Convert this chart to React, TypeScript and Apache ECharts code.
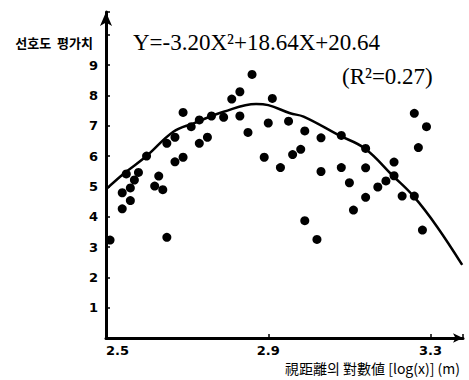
import React, { useEffect, useRef } from "react";
import * as echarts from "echarts";

const xTicks = [2.5, 2.9, 3.3];
const yTickLabels = [1, 2, 3, 4, 5, 6, 7, 8, 9];

const obsX = [
  2.51, 2.69, 2.54, 2.54, 2.55, 2.56, 2.56, 2.57, 2.58, 2.6, 2.62, 2.63, 2.64, 2.65, 2.65,
  2.67, 2.67, 2.69, 2.71, 2.73, 2.73, 2.75, 2.76, 2.79, 2.83, 2.85, 2.89, 2.9, 2.93,
  2.86, 2.83, 2.81, 2.91, 3.26,
  2.95, 2.99, 3.03, 3.08, 3.14, 2.98, 2.96, 3.03, 3.08, 3.14, 3.1, 3.17, 3.19, 3.21, 3.21,
  3.14, 3.11, 3.23, 3.26, 2.99, 3.02, 3.29, 3.27, 3.28,
];
const obsY = [
  3.23, 7.44, 4.79, 4.26, 5.41, 4.53, 4.95, 5.21, 5.46, 6.0, 5.01, 5.34, 4.89, 3.32, 6.42,
  6.62, 5.81, 5.96, 6.97, 7.19, 6.42, 6.62, 7.32, 7.28, 7.32, 6.78, 5.96, 7.09, 5.62,
  8.69, 8.12, 7.88, 7.9, 7.41,
  7.15, 6.83, 6.6, 6.68, 6.25, 6.22, 6.05, 5.49, 5.62, 5.61, 5.12, 4.98, 5.18, 5.35, 5.8,
  4.64, 4.22, 4.68, 4.68, 3.87, 3.25, 6.97, 6.28, 3.56,
];

const fitX = [2.5, 2.545, 2.6, 2.666, 2.716, 2.79, 2.87, 2.9, 2.954, 2.987, 3.075, 3.138, 3.207, 3.259, 3.316, 3.378];
const fitY = [4.9, 5.43, 6.0, 6.8, 7.08, 7.46, 7.72, 7.68, 7.41, 7.3, 6.68, 6.25, 5.35, 4.66, 3.67, 2.41];

const equationText = "Y=-3.20X²+18.64X+20.64";
const r2Text = "(R²=0.27)";
const yAxisName = "선호도  평가치";
const xAxisName = "視距離의 對數値 [log(x)] (m)";

export default function App() {
  const ref = useRef<HTMLDivElement>(null);
  useEffect(() => {
    if (!ref.current) return;
    const chart = echarts.init(ref.current, null, { renderer: "svg" });
    const scatterData = obsX.map((x, i) => [x, obsY[i]]);
    const lineData = fitX.map((x, i) => [x, fitY[i]]);
    const labelFont = "DejaVu Sans";
    chart.setOption({
      animation: false,
      backgroundColor: "#ffffff",
      grid: { left: 106, right: 6, top: 12, bottom: 42 },
      xAxis: {
        type: "value",
        min: 2.5,
        max: 3.38,
        interval: 0.4,
        splitLine: { show: false },
        axisLine: {
          lineStyle: { color: "#000", width: 3 },
          symbol: ["none", "arrow"],
          symbolSize: [7, 10],
        },
        axisTick: { show: true, inside: true, length: 4, lineStyle: { color: "#000", width: 1.5 } },
        axisLabel: {
          margin: 6,
          color: "#000",
          fontFamily: labelFont,
          fontWeight: "bold",
          fontSize: 13,
          alignMinLabel: "left",
          formatter: (v: number) => {
            const m = xTicks.find((t) => Math.abs(t - v) < 0.01);
            return m !== undefined ? m.toFixed(1) : "";
          },
        },
        name: xAxisName,
        nameLocation: "end",
        nameGap: -3,
        nameTextStyle: {
          align: "right",
          verticalAlign: "top",
          padding: [23, 0, 0, 0],
          color: "#000",
          fontSize: 14,
          fontFamily: "Noto Sans CJK KR",
        },
      },
      yAxis: {
        type: "value",
        min: 0,
        max: 10.75,
        interval: 1,
        splitLine: { show: false },
        axisLine: {
          lineStyle: { color: "#000", width: 3 },
          symbol: ["none", "arrow"],
          symbolSize: [9, 14],
        },
        axisTick: { show: true, inside: true, length: 4, lineStyle: { color: "#000", width: 1.5 } },
        axisLabel: {
          margin: 8,
          color: "#000",
          fontFamily: labelFont,
          fontWeight: "bold",
          fontSize: 13,
          formatter: (v: number) => {
            const m = yTickLabels.find((t) => Math.abs(t - v) < 0.01);
            return m !== undefined ? String(m) : "";
          },
        },
        name: yAxisName,
        nameLocation: "end",
        nameGap: -30,
        nameTextStyle: {
          align: "right",
          verticalAlign: "middle",
          padding: [0, 13, 0, 0],
          color: "#000",
          fontSize: 13,
          fontWeight: "bold",
          fontFamily: "Noto Sans CJK KR",
        },
      },
      graphic: [
        {
          type: "text",
          left: 133,
          top: 31,
          style: {
            text: equationText,
            fill: "#000",
            font: "23px 'Liberation Serif'",
          },
        },
        {
          type: "text",
          left: 342,
          top: 65,
          style: {
            text: r2Text,
            fill: "#000",
            font: "23px 'Liberation Serif'",
          },
        },
      ],
      series: [
        {
          type: "scatter",
          data: scatterData,
          symbol: "circle",
          symbolSize: 9,
          itemStyle: { color: "#000", opacity: 1 },
          z: 3,
        },
        {
          type: "line",
          data: lineData,
          smooth: 0.4,
          showSymbol: false,
          lineStyle: { color: "#000", width: 2.5 },
          z: 2,
        },
      ],
    });
    return () => chart.dispose();
  }, []);
  return (
    <div
      ref={ref}
      style={{ position: "fixed", left: 0, top: 0, width: 469, height: 380, background: "#fff" }}
    />
  );
}
